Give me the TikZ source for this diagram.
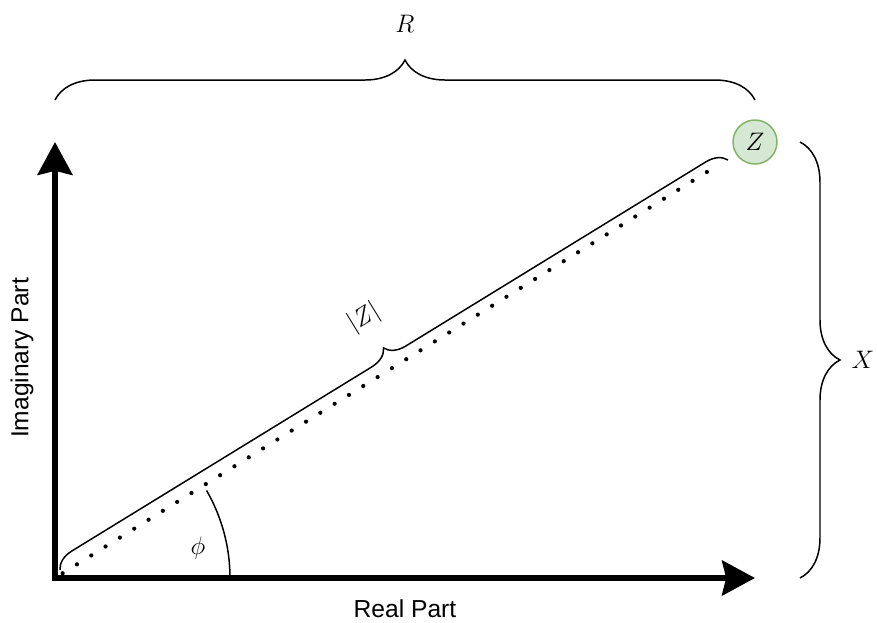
\documentclass[tikz,border=0pt]{standalone}
\usepackage{fontspec}
\newfontfamily\partfont{Liberation Sans}
\usetikzlibrary{arrows.meta,decorations.pathreplacing}
\definecolor{zfill}{HTML}{D5E8D4}
\definecolor{zdraw}{HTML}{82B366}

\begin{document}
\begin{tikzpicture}[
    x=0.02cm, y=-0.02cm,
    axis/.style={line width=3.4pt, line join=miter, {Stealth[length=18.7pt,width=19.8pt,inset=2.3pt]}-{Stealth[length=18.7pt,width=19.8pt,inset=2.3pt]}},
    partlabel/.style={font=\partfont\fontsize{14}{16}\selectfont},
    mathlabel/.style={font=\fontsize{15}{18}\selectfont},
    bigbrace/.style={line width=0.85pt, decorate, decoration={brace, amplitude=8mm}},
    smallbrace/.style={line width=0.85pt, decorate, decoration={brace, amplitude=4mm}},
    zline/.style={line width=2.4pt, line cap=round, dash pattern=on 0pt off 9.6pt},
    point/.style={circle, draw=zdraw, fill=zfill, line width=0.85pt, minimum size=8.8mm, inner sep=0pt, font=\fontsize{15}{18}\selectfont}
]
\useasboundingbox (0,0) rectangle (877,623);

% Axes
\coordinate (origin) at (55,578);
\coordinate (ytip) at (55,142);
\coordinate (xtip) at (755,578);
\draw[axis] (ytip) -- (origin) -- (xtip);

% Axis labels
\node[partlabel, rotate=90] (imlabel) at (22,358) {Imaginary Part};
\node[partlabel] (relabel) at (405,609) {Real Part};

% Point Z
\node[point] (z) at (755,142) {$Z$};

% Magnitude line
\draw[zline, shorten <=1.8mm, shorten >=5.4mm] (origin) -- (z);

% Magnitude brace
\coordinate (mag1) at (60,570);
\coordinate (mag2) at (728,160);
\draw[smallbrace] (mag1) -- (mag2);
\node[mathlabel, rotate=31.5] (maglabel) at (364,318) {$|Z|$};

% Angle
\draw[line width=0.85pt] (origin) ++(175,0) arc[start angle=0, end angle=-30, radius=175];
\node[mathlabel] (philabel) at (198,548) {$\phi$};

% Real part brace
\coordinate (r1) at (55,100);
\coordinate (r2) at (755,100);
\draw[bigbrace] (r1) -- (r2);
\node[mathlabel] (rlabel) at (405,24) {$R$};

% Imaginary part brace
\coordinate (x1) at (800,142);
\coordinate (x2) at (800,578);
\draw[bigbrace] (x1) -- (x2);
\node[mathlabel] (xlabel) at (863,360) {$X$};

\end{tikzpicture}
\end{document}
